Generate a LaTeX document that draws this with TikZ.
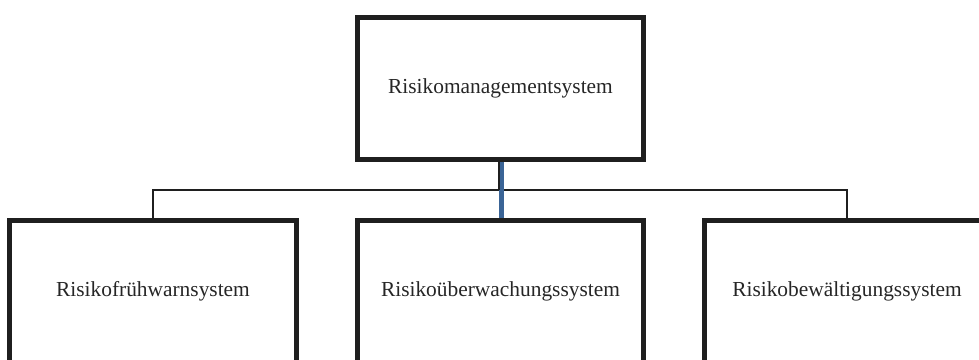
\documentclass[tikz,border=0pt]{standalone}
\usepackage{fontspec}
\setmainfont{Liberation Serif}
\definecolor{linkblue}{RGB}{58,100,150}
\begin{document}
\begin{tikzpicture}[x=1pt,y=-1pt,
  sysbox/.style={draw=black!88, line width=5pt, minimum height=142pt,
    inner sep=0pt, font=\fontsize{21.4}{25}\selectfont, text=black!85},
  bus/.style={draw=black!88, line width=1.6pt},
  trunk/.style={draw=linkblue, line width=4.2pt}]
\useasboundingbox (0,0) rectangle (979,359);
\node[sysbox, minimum width=286pt] (rms) at (500.5,88.5) {Risikomanagementsystem};
\node[sysbox, minimum width=287pt] (fws) at (153,291.5) {Risikofrühwarnsystem};
\node[sysbox, minimum width=286pt] (uws) at (500.5,291.5) {Risikoüberwachungssystem};
\node[sysbox, minimum width=285pt] (bws) at (847,291.5) {Risikobewältigungssystem};
% branch line joining the three subsystems
\draw[bus] (fws.north) -- ++(0,-28) -| (bws.north);
% trunk from the top box down to the middle subsystem
\draw[trunk] ([xshift=1pt]rms.south) -- ([xshift=1pt]uws.north);
\coordinate (join) at ([xshift=-1.2pt]rms.south |- 0,190);
\draw[bus, line width=1.8pt] ([xshift=-1.2pt]rms.south) -- (join);
\end{tikzpicture}
\end{document}
